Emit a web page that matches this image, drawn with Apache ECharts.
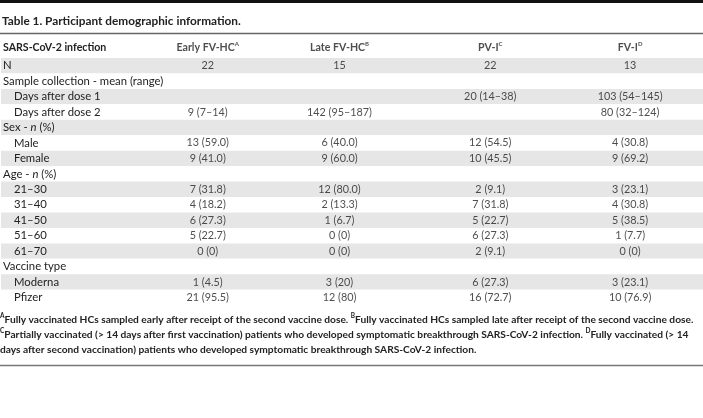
<!DOCTYPE html>
<html><head><meta charset="utf-8">
<script src="https://cdn.jsdelivr.net/npm/echarts/dist/echarts.min.js"></script>
<style>html,body{margin:0;padding:0;background:#fff}#c{width:703px;height:418px}</style>
</head><body><div id="c"></div>
<script>
// ---- data ----
const tableTitle = 'Table 1. Participant demographic information.';
const headerLabel = 'SARS-CoV-2 infection';
const groups = ['Early FV-HC', 'Late FV-HC', 'PV-I', 'FV-I'];
const groupMarks = ['A', 'B', 'C', 'D'];
const rowLabels = ['N', 'Sample collection - mean (range)', 'Days after dose 1', 'Days after dose 2',
  'Sex - n (%)', 'Male', 'Female', 'Age - n (%)', '21–30', '31–40', '41–50', '51–60', '61–70',
  'Vaccine type', 'Moderna', 'Pfizer'];
const rowIsSub = [0, 0, 1, 1, 0, 1, 1, 0, 1, 1, 1, 1, 1, 0, 1, 1];
const earlyFVHC = ['22', '', '', '9 (7–14)', '', '13 (59.0)', '9 (41.0)', '', '7 (31.8)', '4 (18.2)', '6 (27.3)', '5 (22.7)', '0 (0)', '', '1 (4.5)', '21 (95.5)'];
const lateFVHC = ['15', '', '', '142 (95–187)', '', '6 (40.0)', '9 (60.0)', '', '12 (80.0)', '2 (13.3)', '1 (6.7)', '0 (0)', '0 (0)', '', '3 (20)', '12 (80)'];
const pvI = ['22', '', '20 (14–38)', '', '', '12 (54.5)', '10 (45.5)', '', '2 (9.1)', '7 (31.8)', '5 (22.7)', '6 (27.3)', '2 (9.1)', '', '6 (27.3)', '16 (72.7)'];
const fvI = ['13', '', '103 (54–145)', '80 (32–124)', '', '4 (30.8)', '9 (69.2)', '', '3 (23.1)', '4 (30.8)', '5 (38.5)', '1 (7.7)', '0 (0)', '', '3 (23.1)', '10 (76.9)'];
const footnoteLines = [
  [['A', 'Fully vaccinated HCs sampled early after receipt of the second vaccine dose. '], ['B', 'Fully vaccinated HCs sampled late after receipt of the second vaccine dose.']],
  [['C', 'Partially vaccinated (> 14 days after first vaccination) patients who developed symptomatic breakthrough SARS-CoV-2 infection. '], ['D', 'Fully vaccinated (> 14']],
  [['', 'days after second vaccination) patients who developed symptomatic breakthrough SARS-CoV-2 infection.']]
];

// ---- layout ----
const W = 703;
const FONT = 'Lato';
const TXT = '#222';
const colX = [207, 339, 490, 630];
const rowH = 15.45;
const bodyTop = 58;
const LBL = 11.3, VAL = 10.8, HDR = 10.6, FOOT = 10.2;
const cols = [earlyFVHC, lateFVHC, pvI, fvI];

const chart = echarts.init(document.getElementById('c'), null, {renderer: 'canvas'});

const hidX = (gi) => ({gridIndex: gi, type: 'value', min: 0, max: W, show: false});

const footText = footnoteLines.map(line => line.map(([m, t]) => (m ? '{s|' + m + '}' : '') + '{f|' + t + '}').join('')).join('\n');

const option = {
  animation: false,
  backgroundColor: '#fff',
  title: [{
    text: tableTitle, left: 2, top: 14, padding: 0,
    textStyle: {fontFamily: FONT, fontWeight: 'bold', fontSize: 11.8, color: TXT, lineHeight: 14}
  }, {
    text: footText, left: 0, top: 312.5, padding: 0,
    textStyle: {
      fontFamily: FONT, fontSize: FOOT, color: TXT, lineHeight: 15,
      rich: {
        f: {fontFamily: FONT, fontSize: FOOT, color: TXT, lineHeight: 15},
        s: {fontFamily: FONT, fontSize: 6.5, color: TXT, lineHeight: 10, verticalAlign: 'top'}
      }
    }
  }],
  grid: [
    {left: 0, right: 0, top: 39, height: 18},
    {left: 0, right: 0, top: bodyTop, height: rowH * rowLabels.length}
  ],
  xAxis: [hidX(0), hidX(1)],
  yAxis: [{
    gridIndex: 0, type: 'category', data: [headerLabel], inverse: true,
    axisLine: {show: false}, axisTick: {show: false}, splitLine: {show: false},
    axisLabel: {inside: true, margin: 2, fontFamily: FONT, fontWeight: 'bold', fontSize: HDR, color: TXT}
  }, {
    gridIndex: 1, type: 'category', data: rowLabels, inverse: true,
    axisLine: {show: false}, axisTick: {show: false}, splitLine: {show: false},
    splitArea: {show: true, areaStyle: {color: ['#e6e6e6', '#ffffff']}},
    axisLabel: {
      inside: true, margin: 2, fontFamily: FONT, fontSize: LBL, color: TXT,
      formatter: function (v, i) {
        const st = rowIsSub[i] ? 'x' : 'r';
        const m = v.match(/^(.*- )n( .*)$/);
        if (m) return '{' + st + '|' + m[1] + '}{i|n}{r|' + m[2] + '}';
        return '{' + st + '|' + v + '}';
      },
      rich: {
        r: {fontFamily: FONT, fontSize: LBL, color: TXT},
        x: {fontFamily: FONT, fontSize: LBL, color: TXT, padding: [0, 0, 0, 11]},
        i: {fontFamily: FONT, fontSize: LBL, color: TXT, fontStyle: 'italic'}
      }
    }
  }],
  series: [{
    type: 'scatter', xAxisIndex: 0, yAxisIndex: 0, symbolSize: 1, silent: true,
    itemStyle: {color: 'rgba(0,0,0,0)'},
    data: groups.map((g, c) => [colX[c], 0, g, groupMarks[c]]),
    label: {
      show: true, position: 'inside',
      formatter: p => '{h|' + p.data[2] + '}{s|' + p.data[3] + '}',
      rich: {
        h: {fontFamily: FONT, fontWeight: 'bold', fontSize: HDR, color: TXT, lineHeight: 13},
        s: {fontFamily: FONT, fontWeight: 'bold', fontSize: 6, color: TXT, lineHeight: 8, verticalAlign: 'top'}
      }
    }
  }].concat(cols.map((arr, c) => ({
    type: 'scatter', xAxisIndex: 1, yAxisIndex: 1, symbolSize: 1, silent: true,
    itemStyle: {color: 'rgba(0,0,0,0)'},
    data: arr.map((v, i) => v ? [colX[c], i, v] : null).filter(Boolean),
    label: {show: true, position: 'inside', formatter: p => p.data[2], fontFamily: FONT, fontSize: VAL, color: TXT}
  }))),
  graphic: [
    {type: 'rect', shape: {x: 0, y: 0, width: W, height: 3}, style: {fill: '#111'}, silent: true},
    {type: 'line', shape: {x1: 0, y1: 33.5, x2: W, y2: 33.5}, style: {stroke: '#666', lineWidth: 1.5}, silent: true},
    {type: 'line', shape: {x1: 0, y1: 365.5, x2: W, y2: 365.5}, style: {stroke: '#777', lineWidth: 1.5}, silent: true}
  ]
};
chart.setOption(option);
</script>
</body></html>
